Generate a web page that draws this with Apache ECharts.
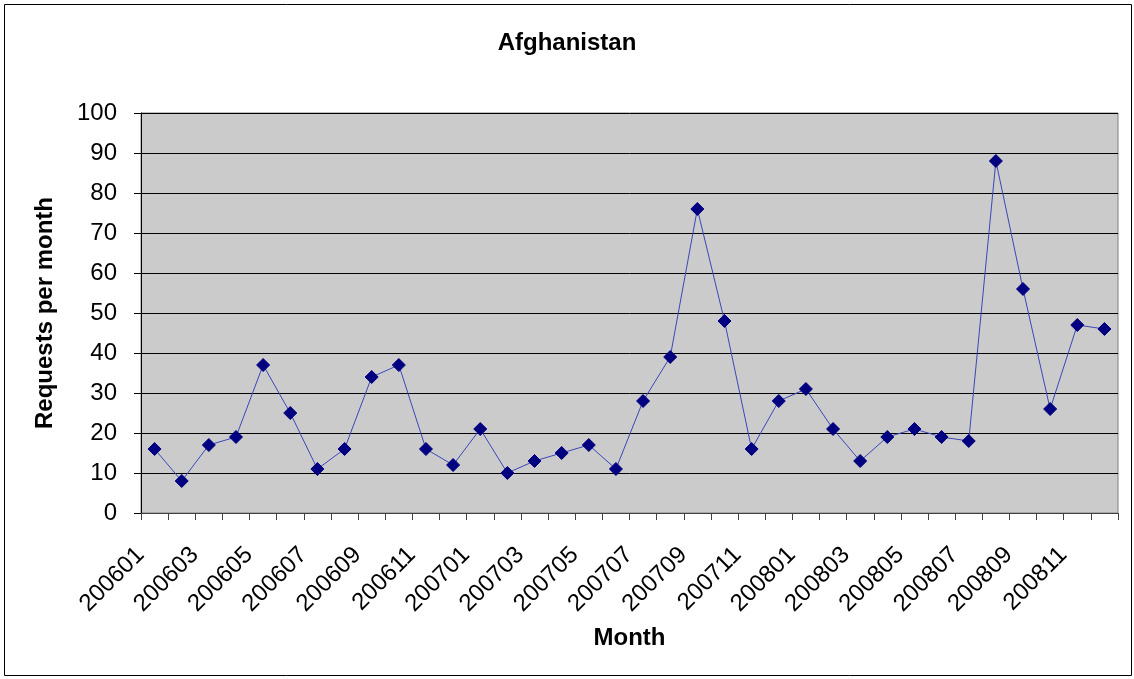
<!DOCTYPE html>
<html>
<head>
<meta charset="utf-8">
<script src="https://cdn.jsdelivr.net/npm/echarts@6/dist/echarts.min.js"></script>
<style>
html,body{margin:0;padding:0;background:#fff;}
#c{width:1134px;height:679px;}
</style>
</head>
<body>
<div id="c"></div>
<script>
const months = ['200601','200602','200603','200604','200605','200606','200607','200608','200609','200610','200611','200612',
  '200701','200702','200703','200704','200705','200706','200707','200708','200709','200710','200711','200712',
  '200801','200802','200803','200804','200805','200806','200807','200808','200809','200810','200811','200812'];
const requests = [16,8,17,19,37,25,11,16,34,37,16,12,
  21,10,13,15,17,11,28,39,76,48,16,28,
  31,21,13,19,21,19,18,88,56,26,47,46];
const yTicks = {min:0, max:100, interval:10};

const chart = echarts.init(document.getElementById('c'), null, {renderer:'canvas'});
const font = 'Liberation Sans, Arial, sans-serif';
chart.setOption({
  animation:false,
  backgroundColor:'#ffffff',
  title:{text:'Afghanistan', left:'center', top:26,
    textStyle:{fontFamily:font, fontWeight:'bold', fontSize:24, color:'#000'}},
  graphic:[{type:'rect', shape:{x:4.5,y:4.5,width:1127,height:671},
    style:{fill:'none', stroke:'#000', lineWidth:1}, z:-1}],
  grid:{left:141, top:113, right:16, bottom:166, show:true,
    backgroundColor:'#cbcbcb', borderColor:'#808080', borderWidth:1},
  xAxis:{type:'category', data:months, boundaryGap:true,
    name:'Month', nameLocation:'middle', nameGap:113, nameMoveOverlap:false,
    nameTextStyle:{fontFamily:font, fontWeight:'bold', fontSize:24, color:'#000'},
    axisLine:{lineStyle:{color:'#404040', width:1}},
    axisTick:{show:true, interval:0, length:7, lineStyle:{color:'#404040'}},
    axisLabel:{interval:1, rotate:45, margin:24, padding:[0,20,0,0],
      fontFamily:font, fontSize:24, color:'#000'},
    splitLine:{show:false}},
  yAxis:{type:'value', min:yTicks.min, max:yTicks.max, interval:yTicks.interval,
    name:'Requests per month', nameLocation:'middle', nameGap:84, nameRotate:90,
    nameMoveOverlap:false,
    nameTextStyle:{fontFamily:font, fontWeight:'bold', fontSize:24, color:'#000'},
    axisLine:{show:true, lineStyle:{color:'#000', width:1}},
    axisTick:{show:true, length:7, lineStyle:{color:'#000'}},
    axisLabel:{margin:24, fontFamily:font, fontSize:24, color:'#000'},
    splitLine:{show:true, lineStyle:{color:'#000', width:1}}},
  series:[{type:'line', data:requests, symbol:'diamond', symbolSize:13,
    lineStyle:{color:'#3a47b8', width:1},
    itemStyle:{color:'#000080', borderColor:'#000080'}}]
});
</script>
</body>
</html>
